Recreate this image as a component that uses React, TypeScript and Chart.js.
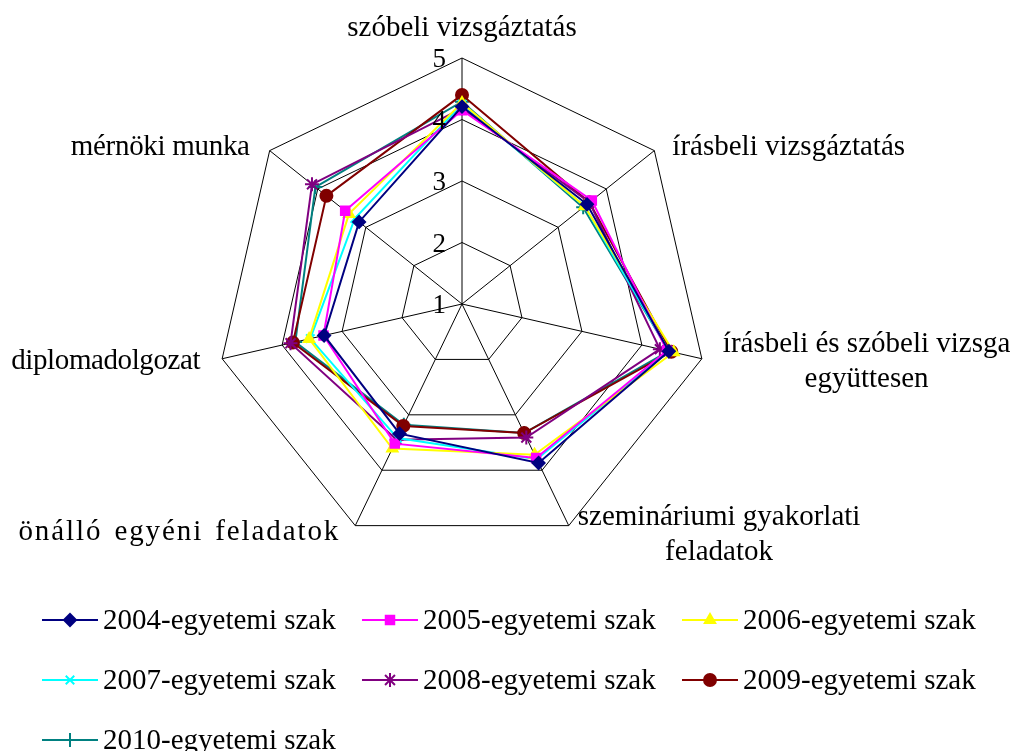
import React, { useEffect, useRef } from 'react';
import { Chart, registerables } from 'chart.js';
import { drawPoint } from 'chart.js/helpers';

Chart.register(...registerables);

// ---- Data ----
const categories: string[][] = [
  ['szóbeli vizsgáztatás'],
  ['írásbeli vizsgáztatás'],
  ['írásbeli és szóbeli vizsga', 'együttesen'],
  ['szemináriumi gyakorlati', 'feladatok'],
  ['önálló egyéni feladatok'],
  ['diplomadolgozat'],
  ['mérnöki munka'],
];

const seriesNames = [
  '2004-egyetemi szak',
  '2005-egyetemi szak',
  '2006-egyetemi szak',
  '2007-egyetemi szak',
  '2008-egyetemi szak',
  '2009-egyetemi szak',
  '2010-egyetemi szak',
];

const values2004 = [4.21, 3.6, 4.45, 3.87, 3.34, 3.3, 3.14];
const values2005 = [4.15, 3.7, 4.42, 3.78, 3.52, 3.31, 3.43];
const values2006 = [4.27, 3.55, 4.53, 3.72, 3.61, 3.55, 3.35];
const values2007 = [4.25, 3.55, 4.45, 3.8, 3.42, 3.53, 3.23];
const values2008 = [4.18, 3.65, 4.3, 3.41, 3.45, 3.86, 4.12];
const values2009 = [4.4, 3.65, 4.49, 3.33, 3.2, 3.82, 3.82];
const values2010 = [4.29, 3.52, 4.45, 3.33, 3.18, 3.78, 4.05];

const tickValues = [1, 2, 3, 4, 5];

// ---- Styles ----
const seriesColors = ['#000080', '#FF00FF', '#FFFF00', '#00FFFF', '#800080', '#800000', '#008080'];
const seriesMarkers = ['rectRot', 'rect', 'triangle', 'crossRot', 'star', 'circle', 'cross'];
const markerRadius = [6, 6, 6, 6, 7, 6, 7];

const FONT = '"Liberation Serif", "Times New Roman", serif';

// label placement relative to the outer vertex of each axis
const labelPlacement = [
  { align: 'center', dx: 0, dy: -30, spacing: 0, word: 0 },
  { align: 'left', dx: 18, dy: -3, spacing: 0, word: 0 },
  { align: 'leftblock', dx: 21, dy: -14, spacing: 0, word: 0 },
  { align: 'leftblock', dx: 9, dy: -8, spacing: 0, word: 0 },
  { align: 'right', dx: -15, dy: 7, spacing: 1.9, word: 3 },
  { align: 'right', dx: -22, dy: 3, spacing: -0.4, word: 0 },
  { align: 'right', dx: -20, dy: -3, spacing: -0.3, word: 0 },
];

const overlayPlugin = {
  id: 'overlay',
  afterDraw(chart: any) {
    const ctx: any = chart.ctx;
    const scale = chart.scales.r;
    ctx.save();
    // tick labels
    ctx.fillStyle = '#000';
    ctx.font = `27px ${FONT}`;
    ctx.textAlign = 'right';
    ctx.textBaseline = 'middle';
    tickValues.forEach((v) => {
      const d = scale.getDistanceFromCenterForValue(v);
      ctx.fillText(String(v), scale.xCenter - 16, scale.yCenter - d + 2);
    });
    // point labels
    ctx.font = `29px ${FONT}`;
    const lineH = 35;
    categories.forEach((lines, i) => {
      const p = scale.getPointPosition(i, scale.drawingArea);
      const pl = labelPlacement[i];
      const x = p.x + pl.dx;
      const y = p.y + pl.dy;
      ctx.letterSpacing = `${pl.spacing}px`;
      ctx.wordSpacing = `${pl.word}px`;
      if (pl.align === 'leftblock') {
        const maxW = Math.max(...lines.map((l) => ctx.measureText(l).width));
        ctx.textAlign = 'center';
        lines.forEach((l, k) => ctx.fillText(l, x + maxW / 2, y + k * lineH));
      } else {
        ctx.textAlign = pl.align;
        lines.forEach((l, k) => ctx.fillText(l, x, y + k * lineH));
      }
      ctx.letterSpacing = '0px';
      ctx.wordSpacing = '0px';
    });
    // legend
    const colX = [42, 362, 682];
    const rowY = [620, 680, 740];
    seriesNames.forEach((name, i) => {
      const x = colX[i % 3];
      const y = rowY[Math.floor(i / 3)];
      ctx.strokeStyle = seriesColors[i];
      ctx.fillStyle = seriesColors[i];
      ctx.lineWidth = 2;
      ctx.beginPath();
      ctx.moveTo(x, y);
      ctx.lineTo(x + 56, y);
      ctx.stroke();
      drawPoint(ctx, { pointStyle: seriesMarkers[i] as any, radius: markerRadius[i], rotation: 0, borderWidth: 2 }, x + 28, y);
      ctx.fillStyle = '#000';
      ctx.textAlign = 'left';
      ctx.textBaseline = 'middle';
      ctx.font = `29px ${FONT}`;
      ctx.fillText(name, x + 61, y + 1);
    });
    ctx.restore();
  },
};

export default function App() {
  const canvasRef = useRef<HTMLCanvasElement | null>(null);
  useEffect(() => {
    document.body.style.margin = '0';
    const canvas = canvasRef.current;
    if (!canvas) return;
    const allValues = [values2004, values2005, values2006, values2007, values2008, values2009, values2010];
    const chart = new Chart(canvas, {
      type: 'radar',
      data: {
        labels: categories,
        datasets: allValues.map((vals, i) => ({
          label: seriesNames[i],
          data: vals,
          borderColor: seriesColors[i],
          backgroundColor: seriesColors[i],
          pointBackgroundColor: seriesColors[i],
          pointBorderColor: seriesColors[i],
          pointStyle: seriesMarkers[i] as any,
          pointRadius: markerRadius[i],
          pointBorderWidth: 2,
          borderWidth: 2,
          fill: false,
          tension: 0,
        })),
      },
      options: {
        responsive: false,
        animation: false,
        devicePixelRatio: 1,
        layout: { padding: { left: 216, right: 303, top: 58, bottom: 201 } },
        plugins: { legend: { display: false }, tooltip: { enabled: false } },
        scales: {
          r: {
            min: 1,
            max: 5,
            ticks: { stepSize: 1, display: false },
            grid: { color: '#000', lineWidth: 1 },
            angleLines: { color: '#000', lineWidth: 1 },
            pointLabels: { display: false },
          },
        },
      },
      plugins: [overlayPlugin],
    });
    return () => chart.destroy();
  }, []);
  return (
    <div style={{ width: 1011, height: 751, background: '#fff' }}>
      <canvas ref={canvasRef} width={1011} height={751} />
    </div>
  );
}
